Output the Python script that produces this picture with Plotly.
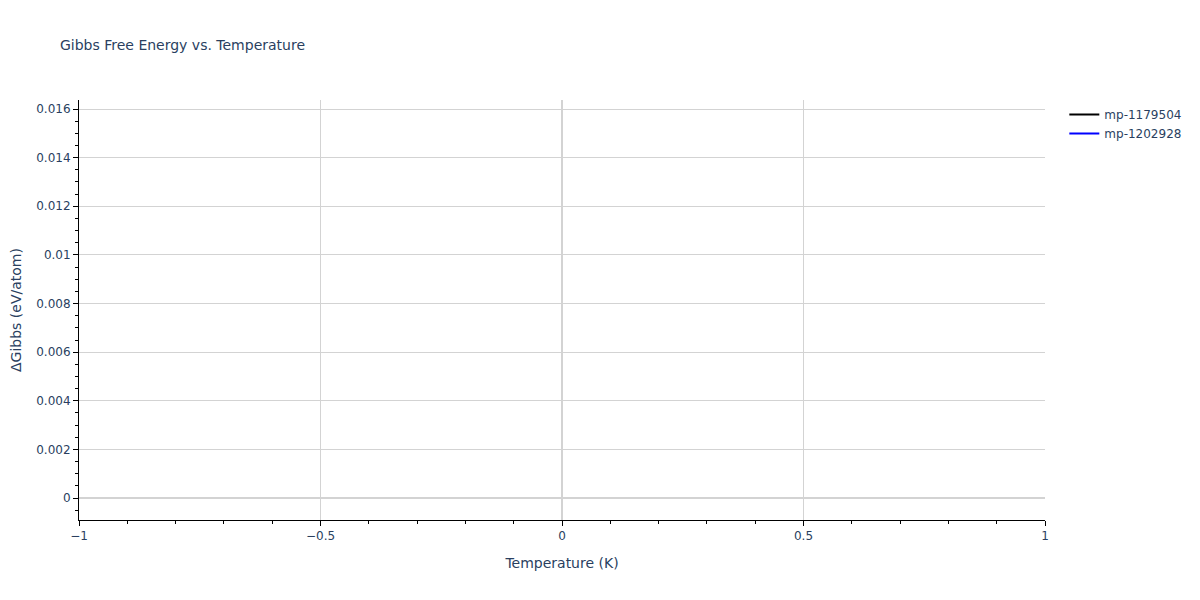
import plotly.graph_objects as go

# one temperature point per material, all at zero
temperature_1179504 = [0]
gibbs_1179504 = [0]
temperature_1202928 = [0]
gibbs_1202928 = [0]

fig = go.Figure()
fig.add_trace(go.Scatter(x=temperature_1179504, y=gibbs_1179504, mode='lines',
                         name='mp-1179504', line=dict(color='black')))
fig.add_trace(go.Scatter(x=temperature_1202928, y=gibbs_1202928, mode='lines',
                         name='mp-1202928', line=dict(color='blue')))

axis_style = dict(showline=True, linecolor='black', linewidth=1,
                  ticks='outside', tickcolor='black',
                  showgrid=True, gridcolor='lightgray',
                  zeroline=True, zerolinecolor='lightgray', zerolinewidth=2,
                  title_font=dict(size=14), tickfont=dict(size=12),
                  automargin=False)

fig.update_xaxes(title='Temperature (K)', range=[-1, 1], dtick=0.5,
                 minor=dict(ticks='outside', dtick=0.1, tickcolor='black', ticklen=3),
                 **axis_style)
fig.update_yaxes(title='ΔGibbs (eV/atom)', range=[-0.0009, 0.01637], dtick=0.002,
                 minor=dict(ticks='outside', dtick=0.0005, tickcolor='black', ticklen=3),
                 title_standoff=18, **axis_style)

# page has an 8px body margin, so the figure is a bit smaller and shifted
fig.update_layout(title=dict(text='Gibbs Free Energy vs. Temperature',
                             font=dict(size=14), x=0.0436, xanchor='left',
                             y=1 - 37 / 592, yanchor='middle'),
                  template='plotly_white', width=1192, height=592,
                  margin=dict(l=71, r=155, t=92, b=80),
                  font=dict(family='DejaVu Sans', size=12, color='#2a3f5f'),
                  legend=dict(font=dict(size=12)),
                  plot_bgcolor='white', paper_bgcolor='white')

fig.write_html("out.html")
